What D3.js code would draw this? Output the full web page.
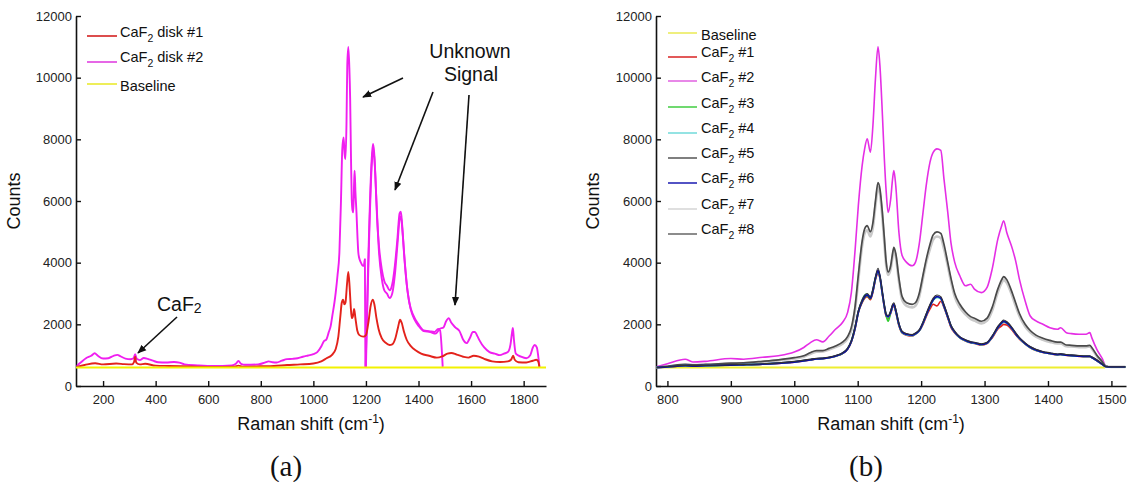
<!DOCTYPE html>
<html>
<head>
<meta charset="utf-8">
<script src="https://cdn.jsdelivr.net/npm/d3@7"></script>
<style>
  html, body { margin: 0; padding: 0; background: #fff; }
  svg { display: block; font-family: "Liberation Sans", Arial, Helvetica, sans-serif; }
</style>
</head>
<body>
<svg id="fig" width="1128" height="482"></svg>
<script>
// ---------- shared values ----------
const baselineCounts = 600;
const countTicks = [0, 2000, 4000, 6000, 8000, 10000, 12000];
const shiftTicksA = [200, 400, 600, 800, 1000, 1200, 1400, 1600, 1800];
const shiftTicksB = [800, 900, 1000, 1100, 1200, 1300, 1400, 1500];

// ---------- panel (a): two CaF2 disks, [Raman shift, counts] ----------
const disk1 = [[100,620],[130,680],[170,740],[200,700],[250,730],[280,710],[310,700],[318,780],[322,950],[326,760],[340,700],[360,720],[400,660],[450,650],[500,640],[600,620],[700,630],[715,660],[730,630],[800,640],[850,650],[900,680],[950,700],[1000,730],[1030,800],[1050,900],[1070,1000],[1085,1200],[1095,1600],[1102,2200],[1108,2700],[1113,2800],[1118,2650],[1122,2700],[1128,3300],[1133,3700],[1138,3200],[1142,2600],[1146,2200],[1150,2250],[1155,2500],[1160,2200],[1167,1800],[1175,1650],[1190,1600],[1200,1650],[1210,2100],[1218,2600],[1226,2800],[1232,2650],[1240,2200],[1248,1850],[1260,1550],[1275,1400],[1290,1330],[1300,1350],[1312,1550],[1322,1900],[1330,2150],[1336,2050],[1345,1750],[1355,1500],[1370,1300],[1390,1150],[1410,1050],[1440,980],[1470,920],[1490,960],[1510,1050],[1525,1070],[1545,1020],[1570,950],[1590,920],[1610,980],[1630,950],[1650,880],[1680,800],[1710,780],[1740,800],[1752,850],[1760,980],[1766,850],[1780,770],[1810,760],[1835,820],[1848,850],[1855,800],[1860,620]];

// disk #2 was recorded in three overlapping spectral windows
const disk2WindowA = [[100,650],[115,760],[135,900],[155,980],[168,1060],[180,980],[200,890],[220,900],[240,980],[255,1010],[265,970],[285,890],[305,870],[316,900],[322,1030],[328,880],[340,840],[355,910],[370,880],[390,820],[410,770],[440,760],[470,780],[490,760],[510,700],[560,670],[620,650],[690,670],[705,720],[715,810],[725,720],[740,690],[790,700],[815,760],[830,800],[845,770],[860,760],[880,820],[900,870],[920,880],[940,900],[960,950],[980,990],[1000,1030],[1015,1100],[1031,1300],[1040,1450],[1050,1520],[1058,1730],[1066,1950],[1072,2270],[1080,2700],[1085,3030],[1092,3600],[1099,4330],[1105,6000],[1110,7680],[1115,8060],[1119,7500],[1122,7360],[1126,8500],[1129,10400],[1133,11000],[1137,10300],[1140,9300],[1143,7500],[1146,6060],[1149,5700],[1152,5630],[1155,6600],[1157,6980],[1160,6300],[1164,5630],[1168,4800],[1171,4330],[1176,4100],[1181,4000],[1188,3900],[1192,3900],[1196,4110],[1198,620]];
const disk2WindowB = [[1199,620],[1223,7500],[1227,7850],[1231,7600],[1236,6800],[1242,5500],[1250,4500],[1260,3800],[1270,3400],[1280,3250],[1290,3100],[1300,3300],[1310,3900],[1320,4800],[1328,5600],[1333,5650],[1338,5200],[1345,4300],[1355,3300],[1365,2700],[1380,2300],[1400,2000],[1420,1800],[1440,1780],[1460,1750],[1475,1850],[1482,1800],[1492,620]];
const disk2WindowC = [[1200,620],[1223,7300],[1227,7700],[1232,7400],[1240,6000],[1250,4300],[1260,3500],[1270,3100],[1280,3000],[1290,2850],[1300,3000],[1310,3600],[1320,4600],[1328,5400],[1333,5500],[1340,4900],[1348,4000],[1358,3100],[1370,2500],[1385,2150],[1400,1950],[1420,1780],[1445,1750],[1465,1700],[1480,1850],[1495,1900],[1505,2100],[1515,2200],[1525,2050],[1540,1900],[1556,1780],[1570,1500],[1583,1390],[1595,1550],[1607,1750],[1614,1750],[1625,1600],[1632,1480],[1650,1250],[1670,1100],[1690,1050],[1710,1000],[1725,1050],[1740,1100],[1750,1350],[1756,1750],[1759,1880],[1763,1500],[1770,1050],[1790,950],[1810,900],[1825,1000],[1835,1250],[1842,1330],[1850,1250],[1855,1000],[1860,620]];

// ---------- panel (b): eight CaF2 samples on a common shift grid ----------
const shiftB = [783,800,828,840,860,900,920,950,975,1000,1015,1025,1035,1045,1055,1065,1076,1084,1090,1096,1101,1107,1111,1115,1120,1124,1128,1132,1135,1139,1142,1145,1148,1152,1155,1157,1160,1165,1170,1177,1186,1191,1197,1203,1208,1214,1219,1225,1231,1236,1242,1247,1253,1261,1270,1278,1284,1295,1304,1312,1321,1327,1330,1335,1344,1349,1355,1364,1372,1381,1392,1403,1415,1420,1429,1437,1449,1460,1466,1469,1477,1486,1491,1500,1522];

const caf2No1 = [600,615,655,645,655,675,685,705,735,775,815,845,875,885,915,965,1050,1190,1430,1870,2380,2700,2850,2900,2800,3050,3450,3650,3500,2950,2550,2250,2200,2350,2550,2600,2400,1950,1720,1650,1620,1680,1780,2000,2250,2500,2650,2600,2750,2550,2200,1900,1720,1560,1460,1400,1380,1330,1380,1560,1850,1950,2000,1980,1800,1660,1520,1360,1240,1150,1090,1050,1010,1020,990,980,960,950,950,920,820,695,630,620,620];
const caf2No2 = [620,720,870,780,800,890,870,930,980,1100,1250,1400,1500,1430,1620,1840,2060,2380,3030,4440,5850,7150,7700,8020,7580,8450,9970,11000,10400,8775,7370,6280,5630,6060,6720,6990,6500,4980,4230,4010,3900,4010,4600,5630,6500,7260,7580,7690,7640,6720,5630,4650,4010,3575,3250,3300,3140,3030,3200,3790,4770,5200,5360,4980,4440,4060,3460,2760,2270,2110,2000,1890,1840,1890,1730,1700,1680,1680,1730,1570,1190,870,650,620,620];
const caf2No3 = [600,620,655,650,655,678,688,708,738,778,818,848,878,888,918,968,1055,1195,1440,1890,2390,2730,2880,2930,2830,3080,3480,3720,3530,2980,2580,2280,2100,2380,2580,2630,2430,1980,1730,1670,1640,1690,1790,2040,2290,2590,2780,2880,2830,2580,2230,1940,1740,1570,1470,1410,1390,1340,1390,1590,1890,2040,2080,2040,1840,1690,1540,1370,1250,1160,1095,1055,1015,1025,995,985,965,955,955,925,825,698,630,620,620];
const caf2No4 = [600,622,662,652,662,682,692,712,742,782,822,852,882,892,922,972,1065,1210,1470,1930,2430,2790,2950,2980,2880,3120,3520,3700,3520,2980,2590,2290,2240,2390,2590,2640,2440,1990,1740,1660,1630,1690,1790,2040,2290,2590,2790,2870,2830,2590,2240,1940,1740,1570,1470,1410,1390,1340,1390,1590,1890,2040,2090,2040,1840,1690,1540,1370,1250,1160,1095,1055,1015,1025,995,985,965,955,955,925,825,698,630,620,620];
const caf2No5 = [610,640,700,690,700,740,750,800,850,920,980,1080,1150,1150,1220,1300,1420,1600,1900,2600,3600,4700,5100,5200,5000,5300,6000,6600,6400,5600,4800,4000,3700,3900,4300,4500,4300,3500,2900,2700,2650,2700,3000,3600,4100,4600,4900,5000,4950,4600,4000,3500,3000,2650,2400,2250,2200,2100,2200,2550,3150,3450,3550,3450,3000,2700,2350,2000,1800,1650,1550,1480,1420,1420,1330,1320,1300,1300,1320,1250,1000,780,640,620,620];
const caf2No6 = [600,620,660,650,660,680,690,710,740,780,820,850,880,890,920,970,1060,1200,1450,1900,2400,2750,2900,2950,2850,3100,3500,3750,3550,3000,2600,2300,2250,2400,2600,2650,2450,2000,1750,1680,1650,1700,1800,2050,2300,2600,2800,2900,2850,2600,2250,1950,1750,1580,1480,1420,1400,1350,1400,1600,1900,2050,2100,2050,1850,1700,1550,1380,1260,1170,1100,1060,1020,1030,1000,990,970,960,960,930,830,700,630,620,620];
const caf2No7 = [600,630,680,680,690,720,740,780,830,890,950,1040,1110,1120,1180,1260,1370,1540,1820,2500,3450,4550,4950,5050,4850,5150,5850,6450,6250,5450,4650,3900,3600,3800,4200,4400,4200,3400,2800,2600,2550,2600,2900,3500,4000,4450,4750,4850,4800,4450,3900,3400,2900,2550,2320,2180,2120,2030,2120,2450,3050,3350,3450,3350,2900,2600,2270,1930,1740,1600,1500,1430,1380,1380,1290,1280,1260,1260,1280,1210,970,760,630,620,620];
const caf2No8 = [600,630,670,660,670,690,700,720,750,800,840,870,900,910,940,990,1080,1230,1480,1950,2450,2800,2950,3000,2900,3150,3550,3820,3600,3050,2650,2330,2280,2450,2650,2700,2500,2040,1780,1700,1670,1720,1830,2080,2350,2650,2850,2950,2900,2650,2290,1980,1780,1600,1500,1440,1420,1370,1420,1630,1940,2090,2140,2090,1880,1730,1570,1400,1280,1190,1120,1080,1040,1050,1020,1010,990,980,980,950,850,710,635,620,620];

// ---------- drawing ----------
const svg = d3.select("#fig");
const FONT = "'Liberation Sans', Arial, Helvetica, sans-serif";

function makePanel(opt) {
  const x = d3.scaleLinear().domain(opt.xDomain).range([opt.left, opt.right]);
  const y = d3.scaleLinear().domain([0, 12000]).range([opt.bottom, opt.top]);
  const g = svg.append("g");

  const xAxis = d3.axisBottom(x).tickValues(opt.xTicks).tickFormat(d3.format("d"))
    .tickSizeInner(-5).tickSizeOuter(0).tickPadding(9);
  const yAxis = d3.axisLeft(y).tickValues(countTicks).tickFormat(d3.format("d"))
    .tickSizeInner(-5).tickSizeOuter(0).tickPadding(4);

  const gx = g.append("g").attr("transform", `translate(0,${opt.bottom})`).call(xAxis);
  const gy = g.append("g").attr("transform", `translate(${opt.left},0)`).call(yAxis);
  [gx, gy].forEach(a => {
    a.selectAll(".domain").attr("stroke", "#111").attr("stroke-width", 1.6);
    a.selectAll(".tick line").attr("stroke", "#111").attr("stroke-width", 1.4);
    a.selectAll(".tick text").attr("fill", "#222").attr("font-size", 13).attr("font-family", FONT);
  });

  // axis titles
  const xt = g.append("text").attr("x", (opt.left + opt.right) / 2).attr("y", opt.bottom + 44)
    .attr("text-anchor", "middle").attr("font-size", 18).attr("fill", "#111").attr("font-family", FONT);
  xt.append("tspan").text("Raman shift (cm");
  xt.append("tspan").attr("dy", -7).attr("font-size", 12).text("-1");
  xt.append("tspan").attr("dy", 7).text(")");

  g.append("text").attr("transform", `translate(${opt.countsX},${(opt.top + opt.bottom) / 2}) rotate(-90)`)
    .attr("text-anchor", "middle").attr("font-size", 18).attr("fill", "#111").attr("font-family", FONT)
    .text("Counts");

  g.append("text").attr("x", (opt.left + opt.right) / 2 - 25).attr("y", 476)
    .attr("text-anchor", "middle").attr("font-size", 29).attr("fill", "#111")
    .attr("font-family", "'Liberation Serif', 'DejaVu Serif', serif").text(opt.caption);

  return { g, x, y };
}

function spectrum(p, pts, color, width) {
  const line = d3.line().x(d => p.x(d[0])).y(d => p.y(d[1])).curve(d3.curveMonotoneX);
  p.g.append("path").datum(pts).attr("d", line).attr("fill", "none")
    .attr("stroke", color).attr("stroke-width", width).attr("stroke-linejoin", "round");
}

function subLabel(g, x, y, pre, sub, post, size) {
  const t = g.append("text").attr("x", x).attr("y", y).attr("font-size", size)
    .attr("fill", "#111").attr("font-family", FONT);
  t.append("tspan").text(pre);
  if (sub) {
    t.append("tspan").attr("dy", 5).attr("font-size", size * 0.72).text(sub);
    t.append("tspan").attr("dy", -5).text(post);
  }
  return t;
}

// arrowhead
svg.append("defs").append("marker").attr("id", "head").attr("viewBox", "0 0 10 10")
  .attr("refX", 9).attr("refY", 5).attr("markerWidth", 9).attr("markerHeight", 9)
  .attr("markerUnits", "userSpaceOnUse").attr("orient", "auto")
  .append("path").attr("d", "M0,1 L10,5 L0,9 Z").attr("fill", "#111");

// ---- panel (a) ----
const pa = makePanel({ left: 76, right: 546, top: 16, bottom: 386, xDomain: [97, 1885],
  xTicks: shiftTicksA, countsX: 20, caption: "(a)" });

spectrum(pa, disk2WindowA, "#f01ef0", 1.9);
spectrum(pa, disk2WindowB, "#f01ef0", 1.9);
spectrum(pa, disk2WindowC, "#f01ef0", 1.9);
spectrum(pa, disk1, "#e3221b", 1.9);
spectrum(pa, [[97, baselineCounts], [1885, baselineCounts]], "#f2f200", 2);

// legend (a)
const legendA = [
  { pre: "CaF", sub: "2", post: " disk #1", color: "#d42020", ty: 37, ly: 36 },
  { pre: "CaF", sub: "2", post: " disk #2", color: "#e040e0", ty: 62, ly: 62 },
  { pre: "Baseline", sub: null, post: "", color: "#eaea30", ty: 90.5, ly: 84 }
];
legendA.forEach(d => {
  pa.g.append("line").attr("x1", 87).attr("x2", 117).attr("y1", d.ly).attr("y2", d.ly)
    .attr("stroke", d.color).attr("stroke-width", 1.6);
  subLabel(pa.g, 120, d.ty, d.pre, d.sub, d.post, 14.5);
});

// annotations (a)
const annA = pa.g.append("g").attr("font-family", FONT).attr("fill", "#111");
annA.append("text").attr("x", 470).attr("y", 58).attr("text-anchor", "middle").attr("font-size", 19.5).text("Unknown");
annA.append("text").attr("x", 471).attr("y", 81).attr("text-anchor", "middle").attr("font-size", 19.5).text("Signal");
const caf = annA.append("text").attr("x", 157).attr("y", 311).attr("font-size", 19.5);
caf.append("tspan").text("CaF");
caf.append("tspan").attr("dy", 2).attr("font-size", 14).text("2");
[[403, 78, 363, 97], [433, 92, 395, 190], [469, 95, 455, 305], [177, 317, 138, 353]].forEach(a => {
  annA.append("line").attr("x1", a[0]).attr("y1", a[1]).attr("x2", a[2]).attr("y2", a[3])
    .attr("stroke", "#111").attr("stroke-width", 1.6).attr("marker-end", "url(#head)");
});

// ---- panel (b) ----
const pb = makePanel({ left: 656, right: 1126, top: 16, bottom: 386, xDomain: [782, 1523],
  xTicks: shiftTicksB, countsX: 599, caption: "(b)" });

const seriesB = [
  { values: caf2No2, color: "#e52ee5", width: 1.6 },
  { values: caf2No7, color: "#c9c9c9", width: 2.6 },
  { values: caf2No5, color: "#4a4a4a", width: 1.7 },
  { values: caf2No1, color: "#e01c1c", width: 1.6 },
  { values: caf2No3, color: "#2ccc2c", width: 1.6 },
  { values: caf2No4, color: "#4fd0d0", width: 1.6 },
  { values: caf2No6, color: "#0c0ca8", width: 1.9 },
  { values: caf2No8, color: "#333333", width: 1.1 }
];
spectrum(pb, [[782, baselineCounts], [1490, baselineCounts]], "#eeee30", 1.8);
seriesB.forEach(s => {
  spectrum(pb, shiftB.map((v, i) => [v, s.values[i]]), s.color, s.width);
});

// legend (b)
const legendB = [
  { pre: "Baseline", sub: null, post: "", color: "#eeee70", ly: 33, ty: 40 },
  { pre: "CaF", sub: "2", post: " #1", color: "#d82222", ly: 57, ty: 57 },
  { pre: "CaF", sub: "2", post: " #2", color: "#e060e0", ly: 81, ty: 82 },
  { pre: "CaF", sub: "2", post: " #3", color: "#40cc40", ly: 107, ty: 107.5 },
  { pre: "CaF", sub: "2", post: " #4", color: "#70dada", ly: 133, ty: 133 },
  { pre: "CaF", sub: "2", post: " #5", color: "#555555", ly: 158, ty: 158 },
  { pre: "CaF", sub: "2", post: " #6", color: "#1a1ab0", ly: 183, ty: 183 },
  { pre: "CaF", sub: "2", post: " #7", color: "#d4d4d4", ly: 209, ty: 209 },
  { pre: "CaF", sub: "2", post: " #8", color: "#666666", ly: 234, ty: 234 }
];
legendB.forEach(d => {
  pb.g.append("line").attr("x1", 668).attr("x2", 697).attr("y1", d.ly).attr("y2", d.ly)
    .attr("stroke", d.color).attr("stroke-width", d.pre === "Baseline" ? 1.8 : 1.5);
  subLabel(pb.g, 701, d.ty, d.pre, d.sub, d.post, 14.5);
});
</script>
</body>
</html>
